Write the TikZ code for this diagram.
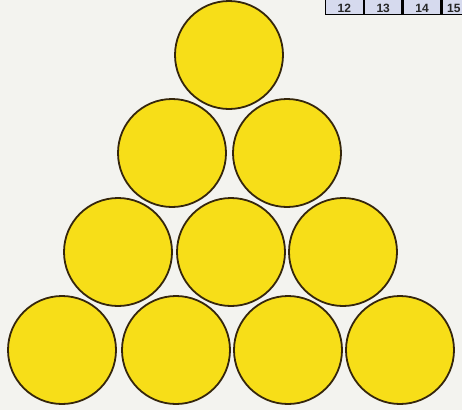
\documentclass[tikz,border=0pt]{standalone}
\usepackage{fontspec}
\setmainfont{Liberation Sans}
\definecolor{paper}{HTML}{F3F3EF}
\definecolor{ballfill}{HTML}{F7DE18}
\definecolor{ballline}{HTML}{35260C}
\definecolor{cellfill}{HTML}{D6DAEE}
\begin{document}
\begin{tikzpicture}[x=1pt,y=-1pt,
  ball/.style={circle,draw=ballline,fill=ballfill,line width=1.8pt,minimum size=108pt,inner sep=0pt},
  cell/.style={draw=black,fill=cellfill,line width=1.3pt,minimum width=37.5pt,minimum height=22pt,inner sep=0pt},
  num/.style={anchor=base,inner sep=0pt,font=\bfseries\fontsize{12pt}{12pt}\selectfont,text=black!85},
]
\useasboundingbox (0,0) rectangle (462,410);
\clip (0,0) rectangle (462,410);
\fill[paper] (0,0) rectangle (462,410);
% table of numbers at top right
\node[cell,anchor=south west] (c12) at (325,15) {};
\node[cell,anchor=south west] (c13) at (c12.south east) {};
\node[cell,anchor=south west] (c14) at (c13.south east) {};
\node[cell,anchor=south west] (c15) at (c14.south east) {};
\node[num] (t12) at ([yshift=2.5pt]c12.south) {12};
\node[num] (t13) at ([yshift=2.5pt]c13.south) {13};
\node[num] (t14) at ([yshift=2.5pt]c14.south) {14};
\node[num] (t15) at ([xshift=-7pt,yshift=2.5pt]c15.south) {15};
% balls
\node[ball] (b1) at (229,55) {};
\node[ball] (b21) at (172,153) {};
\node[ball] (b22) at (287,153) {};
\node[ball] (b31) at (118,252) {};
\node[ball] (b32) at (231,252) {};
\node[ball] (b33) at (343,252) {};
\node[ball] (b41) at (62,350) {};
\node[ball] (b42) at (176,350) {};
\node[ball] (b43) at (288,350) {};
\node[ball] (b44) at (400,350) {};
\end{tikzpicture}
\end{document}
